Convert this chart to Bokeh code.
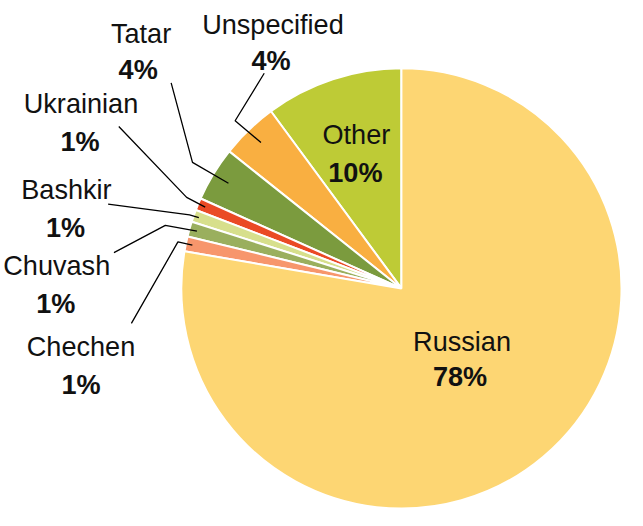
import math
from bokeh.plotting import figure
from bokeh.models import Range1d, ColumnDataSource
from bokeh.core.properties import value
from bokeh.embed import file_html
from bokeh.resources import INLINE

# ---- data (counter-clockwise from 12 o'clock) ----
groups = ["Other", "Unspecified", "Tatar", "Ukrainian", "Bashkir", "Chuvash", "Chechen", "Russian"]
shares = [10.1, 4.2, 4.0, 0.9, 0.9, 1.1, 1.1, 77.7]
colors = ["#BECB36", "#F9AF41", "#7B9B3E", "#EA4A25", "#D7DF8C", "#9AAF5E", "#F7966C", "#FDD673"]

# ---- layout: data units = pixels of a 643x526 canvas, scaled uniformly to fit ----
REF_W, REF_H = 643, 526
W, H = 627, 510
S = min(W / REF_W, H / REF_H)

def px(x):
    return x
def py(y):
    return REF_H - y

CX, CY, R = px(413.5), py(297), 227
FS = f"{28 * S:.1f}px"

labels = {
    "Russian":     dict(name=(476, 352), pct=(474, 388), lead=None),
    "Other":       dict(name=(367, 138), pct=(366, 177), lead=None),
    "Unspecified": dict(name=(281, 25),  pct=(279, 62),  lead=[(272, 75), (242, 124)], f=0.92),
    "Tatar":       dict(name=(145, 34),  pct=(142, 71),  lead=[(176, 85), (198, 167)], f=0.92),
    "Ukrainian":   dict(name=(83, 106),  pct=(82, 145),  lead=[(122, 130), (192, 203)], f=0.965),
    "Bashkir":     dict(name=(68, 195),  pct=(67, 234),  lead=[(111, 210), (195, 221)], f=0.975),
    "Chuvash":     dict(name=(58, 273),  pct=(57, 312),  lead=[(117, 260), (170, 232)], f=0.965),
    "Chechen":     dict(name=(83, 357),  pct=(83, 396),  lead=[(135, 333), (183, 249)], f=0.97),
}

total = sum(shares)
starts, ends, mids = [], [], []
acc = 0.0
for s in shares:
    a0 = math.pi / 2 + 2 * math.pi * acc / total
    acc += s
    a1 = math.pi / 2 + 2 * math.pi * acc / total
    starts.append(a0)
    ends.append(a1)
    mids.append((a0 + a1) / 2)

p = figure(width=W, height=H, x_range=Range1d(0, W / S), y_range=Range1d(REF_H - H / S, REF_H),
           output_backend="svg", toolbar_location=None, min_border=0)
p.axis.visible = False
p.grid.visible = False
p.outline_line_color = None
p.background_fill_color = "white"
p.border_fill_color = "white"

src = ColumnDataSource(dict(start=starts, end=ends, color=colors))
p.wedge(x=CX, y=CY, radius=R, start_angle="start", end_angle="end",
        fill_color="color", line_color="white", line_width=2, source=src)

xs, ys = [], []
nx, ny, nt = [], [], []
qx, qy, qt = [], [], []
for g, s, m in zip(groups, shares, mids):
    L = labels[g]
    nx.append(px(L["name"][0])); ny.append(py(L["name"][1])); nt.append(g)
    qx.append(px(L["pct"][0])); qy.append(py(L["pct"][1])); qt.append(f"{round(s)}%")
    if L["lead"]:
        (x0, y0), (x1, y1) = L["lead"]
        ex = CX + L["f"] * R * math.cos(m)
        ey = CY + L["f"] * R * math.sin(m)
        xs.append([px(x0), px(x1), ex])
        ys.append([py(y0), py(y1), ey])

p.multi_line(xs=xs, ys=ys, line_color="black", line_width=1.3)

p.text(x=nx, y=ny, text=nt, text_font=value("Liberation Sans"), text_font_size=FS,
       text_align="center", text_baseline="alphabetic", text_color="#111111")
p.text(x=qx, y=qy, text=qt, text_font=value("Liberation Sans"), text_font_size=FS,
       text_font_style="bold", text_align="center", text_baseline="alphabetic",
       text_color="#111111")

open("out.html", "w").write(file_html(p, INLINE))
